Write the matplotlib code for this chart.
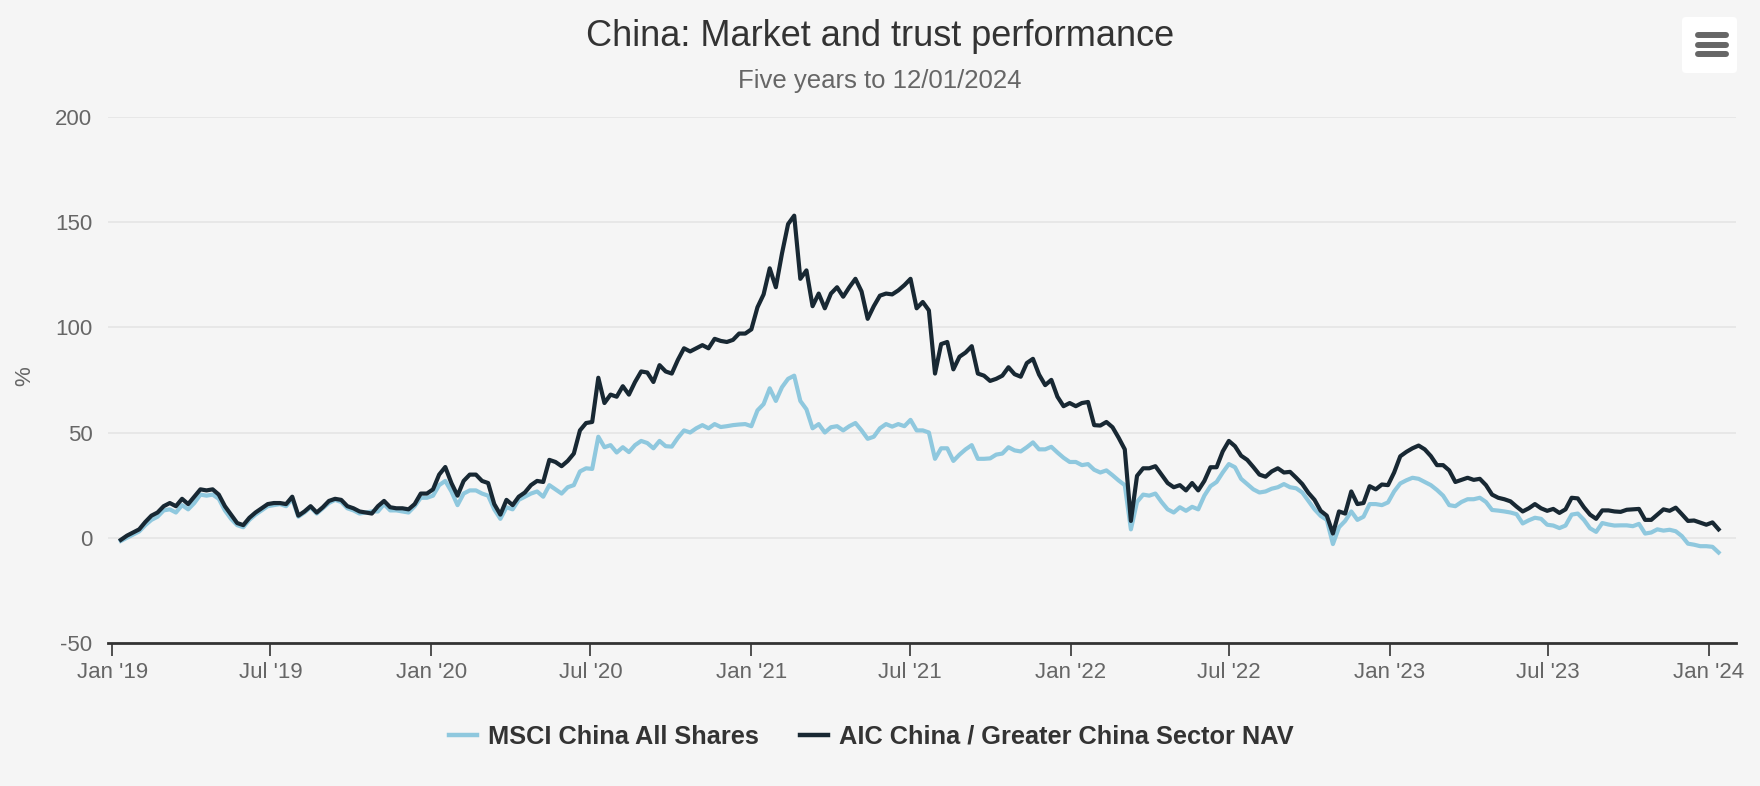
import matplotlib
matplotlib.use("Agg")
import matplotlib.pyplot as plt
import matplotlib.transforms as mtransforms
from matplotlib.patches import FancyBboxPatch
from matplotlib.lines import Line2D
import pandas as pd

# weekly observations, 11/01/2019 .. 12/01/2024
weeks = pd.date_range("2019-01-11", "2024-01-12", freq="W-FRI")

msci = [
    -1.5, 0, 1.5, 3, 6, 8.5, 10, 13, 13.5, 12,
    15.5, 13.5, 16.5, 20.5, 20, 20.5, 18.5, 13, 9, 6,
    5, 8.5, 11, 13, 15, 15.5, 16, 15, 18.5, 10,
    12, 14.5, 11.5, 14, 16.5, 18, 17, 14, 13, 11.5,
    12, 12.5, 12.5, 16, 13, 13, 12.5, 12, 15, 19,
    19, 20, 25, 27, 22, 15.5, 21, 22.5, 22.5, 21,
    20, 13.5, 9, 14.5, 13.5, 18, 19.5, 21, 22, 19.5,
    25, 23, 21, 24, 25, 31.5, 33, 32.7, 48, 43,
    44, 40.5, 43, 40.7, 44, 46, 45, 42.5, 46, 43.5,
    43.3, 47.5, 51, 50, 52, 53.5, 52, 54, 52.6, 53,
    53.5, 53.8, 54, 53, 60.5, 63.5, 71, 65, 71.5, 75.5,
    77, 65, 61, 52, 54, 50, 52.5, 53, 51, 53,
    54.5, 51, 47, 48, 52, 54, 52.8, 54, 53, 56,
    51, 51, 50, 37.5, 42.5, 42.5, 36.5, 39.5, 42, 44,
    37.5, 37.5, 37.7, 39.5, 40, 43, 41.5, 41, 43, 45.3,
    42, 42, 43.2, 40.5, 38, 36, 36, 34.5, 35, 32.3,
    31, 32, 29.7, 27.2, 25, 4, 17, 20.5, 20, 21,
    17, 13.5, 12, 14.5, 12.8, 14.7, 13.5, 20, 24.5, 26.5,
    31, 35, 33.5, 28, 25.5, 23, 21.5, 22, 23.3, 24,
    25.5, 24, 23.5, 21.5, 17.5, 13.5, 10.4, 8.5, -3, 5,
    8, 12.5, 8.5, 10, 16, 16, 15.5, 16.8, 22, 25.8,
    27.3, 28.5, 28, 26.5, 25, 22.7, 20, 15.5, 15, 17,
    18.3, 18.3, 19, 17, 13.2, 12.9, 12.5, 12, 11.2, 6.8,
    8.3, 9.5, 9, 6.2, 5.8, 4.6, 5.8, 11, 11.5, 8.5,
    4.5, 2.8, 7, 6.3, 5.8, 5.9, 5.9, 5.5, 6.6, 2,
    2.5, 4, 3.4, 3.8, 3.1, 0.8, -2.8, -3.3, -4, -4,
    -4.3, -7,
]

nav = [
    -1, 1, 2.5, 4, 7.5, 10.5, 12, 15, 16.5, 15,
    18.5, 16, 19.5, 23, 22.5, 23, 20.5, 15, 11, 7,
    6, 9.5, 12, 14, 16, 16.5, 16.5, 16, 19.5, 10.5,
    12.5, 15, 12, 14.5, 17.5, 18.5, 18, 15, 14, 12.5,
    12, 11.5, 15, 17.5, 14.5, 14, 14, 13.5, 16, 21,
    21, 23, 30, 33.6, 26, 20, 27, 30, 30, 27,
    26, 16, 11, 18, 15.5, 19.5, 21.5, 25, 27, 26.5,
    37, 36, 34, 36.5, 40, 51, 54.5, 55, 76, 64,
    68, 67, 72, 68, 74, 79, 78.5, 74, 82, 79,
    78, 84.5, 90, 88.5, 90, 91.5, 90, 94.5, 93.5, 93,
    94, 97, 97, 99, 109.5, 115.6, 128, 119, 135, 149,
    153, 123, 127, 110, 116, 109, 116, 119, 114.5, 119,
    123, 117, 104, 110, 115, 116, 115.6, 117.5, 120, 123,
    109, 112, 108, 78, 92, 93, 80, 86, 88, 91,
    78, 77, 74.5, 75.5, 77, 81, 77.7, 76.5, 83, 85,
    77.5, 72.5, 75, 67, 62.5, 64, 62.5, 64, 64.5, 53.5,
    53.3, 55, 52.5, 47.5, 42, 8, 29.4, 33, 33, 34,
    30, 26, 24, 25, 22.5, 26, 22.5, 27, 33.5, 33.5,
    41, 46, 43.5, 39, 37, 33.6, 30, 29, 31.5, 33,
    31, 31.3, 28.5, 25.5, 21.3, 18, 12.8, 10.5, 2, 12.5,
    11.5, 22, 16, 16.5, 24.5, 23, 25.3, 25, 31, 38.7,
    40.8, 42.5, 43.8, 42, 38.8, 34.5, 34.5, 32, 26.5, 27.5,
    28.5, 27.5, 28, 25, 20.5, 19, 18.3, 17.3, 14.8, 12.5,
    14, 16, 14, 12.8, 13.7, 11.8, 13.5, 19, 18.7, 14.5,
    11, 9, 13, 13, 12.5, 12.3, 13.3, 13.5, 13.7, 8.5,
    8.5, 11, 13.5, 12.8, 14.3, 11.2, 8, 8.2, 7.2, 6.2,
    7.3, 4,
]

tick_dates = pd.to_datetime([
    "2019-01-01", "2019-07-01", "2020-01-01", "2020-07-01", "2021-01-01", "2021-07-01",
    "2022-01-01", "2022-07-01", "2023-01-01", "2023-07-01", "2024-01-01",
])
tick_labels = ["Jan '19", "Jul '19", "Jan '20", "Jul '20", "Jan '21", "Jul '21",
               "Jan '22", "Jul '22", "Jan '23", "Jul '23", "Jan '24"]
y_ticks = [-50, 0, 50, 100, 150, 200]

series_names = ["MSCI China All Shares", "AIC China / Greater China Sector NAV"]
series_colors = ["#8fc8de", "#182833"]

plt.rcParams["font.family"] = ["Liberation Sans", "DejaVu Sans"]
plt.rcParams["axes.unicode_minus"] = False

bg = "#f5f5f5"
fig = plt.figure(figsize=(17.6, 7.86), dpi=100, facecolor=bg)
ax = fig.add_axes([0.0612, 0.1819, 0.9252, 0.6696])
ax.set_facecolor(bg)

ax.plot(weeks, msci, color=series_colors[0], lw=3.0, solid_joinstyle="round")
ax.plot(weeks, nav, color=series_colors[1], lw=3.0, solid_joinstyle="round")

ax.set_xlim(pd.Timestamp("2018-12-27"), pd.Timestamp("2024-02-01"))
ax.set_ylim(-50, 200)
ax.set_yticks(y_ticks)
ax.set_xticks(tick_dates)
ax.set_xticklabels(tick_labels)

ax.grid(axis="y", color="#e6e6e6", lw=1.3)
ax.set_axisbelow(True)
for s in ["left", "right", "top"]:
    ax.spines[s].set_visible(False)
ax.spines["bottom"].set_color("#333333")
ax.spines["bottom"].set_linewidth(2)
ax.tick_params(axis="y", length=0, pad=11, labelsize=16, labelcolor="#666666")
ax.tick_params(axis="x", length=9.5, width=1.2, color="#333333", pad=4,
               labelsize=16, labelcolor="#666666")

fig.text(25 / 1760, 1 - 376 / 786, "%", rotation=90, ha="center", va="center",
         fontsize=16, color="#666666")

fig.text(0.5, 1 - 36 / 786, "China: Market and trust performance", ha="center",
         va="center", fontsize=26, color="#333333")
fig.text(0.5, 1 - 81 / 786, "Five years to 12/01/2024", ha="center", va="center",
         fontsize=18.5, color="#666666")

handles = [Line2D([], [], color=c, lw=3.2) for c in series_colors]
fig.legend(handles, series_names, loc="center", bbox_to_anchor=(0.495, 1 - 737 / 786),
           ncol=2, frameon=False, prop={"weight": "bold", "size": 18.3},
           labelcolor="#333333", handlelength=1.1, handletextpad=0.45, columnspacing=1.6)

# export menu button (top right)
px = mtransforms.IdentityTransform()
fig.patches.append(FancyBboxPatch((1682, 786 - 73), 55, 56,
                                  boxstyle="round,pad=0,rounding_size=4",
                                  facecolor="white", edgecolor="none", transform=px))
for yb in [35, 44.5, 54]:
    fig.lines.append(Line2D([1698, 1726], [786 - yb, 786 - yb], color="#666666",
                            lw=4.3, solid_capstyle="round", transform=px))

fig.savefig("out.png", dpi=100, facecolor=bg)
